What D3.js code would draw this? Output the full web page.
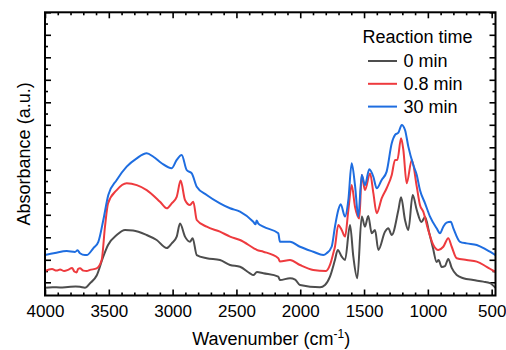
<!DOCTYPE html>
<html>
<head>
<meta charset="utf-8">
<script src="https://cdn.jsdelivr.net/npm/d3@7"></script>
<style>
  body { margin: 0; background: #fff; }
  svg { display: block; font-family: "Liberation Sans", Arial, sans-serif; }
</style>
</head>
<body>
<svg id="chart" width="506" height="350"></svg>
<script>
// FTIR spectra, [wavenumber (cm-1), absorbance (a.u.)]
const spectrum0min = [
  [4000, -0.024], [3940, -0.022], [3882, -0.023], [3820, -0.021], [3760, -0.019], [3726, -0.020],
  [3687, -0.024], [3647, -0.004], [3595, 0.030], [3545, 0.112], [3506, 0.166], [3438, 0.210],
  [3373, 0.232], [3310, 0.230], [3203, 0.210], [3125, 0.188], [3046, 0.152], [3007, 0.173],
  [2968, 0.203], [2942, 0.261], [2903, 0.203], [2864, 0.180], [2843, 0.196], [2811, 0.121],
  [2733, 0.107], [2629, 0.099], [2550, 0.077], [2472, 0.069], [2394, 0.040], [2368, 0.032],
  [2339, 0.046], [2289, 0.040], [2172, 0.025], [2159, 0.010], [2080, 0.018], [2040, 0.012],
  [2002, -0.012], [1845, -0.022], [1806, -0.012], [1767, 0.025], [1728, 0.099], [1706, 0.144],
  [1675, 0.114], [1649, 0.099], [1610, 0.255], [1584, 0.114], [1553, 0.018], [1518, 0.292],
  [1493, 0.247], [1467, 0.295], [1440, 0.218], [1414, 0.232], [1388, 0.144], [1336, 0.225],
  [1310, 0.240], [1283, 0.210], [1231, 0.321], [1210, 0.378], [1179, 0.277], [1153, 0.232],
  [1119, 0.388], [1087, 0.321], [1050, 0.268], [1022, 0.290], [991, 0.224], [960, 0.152],
  [931, 0.090], [916, 0.099], [892, 0.068], [866, 0.072], [840, 0.104], [813, 0.064],
  [774, 0.032], [722, 0.018], [644, 0.010], [566, 0.003], [513, -0.004], [470, -0.025]
];

const spectrum08min = [
  [4000, 0.050], [3945, 0.059], [3910, 0.052], [3882, 0.057], [3850, 0.050], [3820, 0.055],
  [3788, 0.064], [3770, 0.048], [3752, 0.044], [3740, 0.060], [3726, 0.062], [3700, 0.052],
  [3673, 0.050], [3647, 0.055], [3595, 0.062], [3556, 0.099], [3530, 0.247], [3506, 0.351],
  [3438, 0.410], [3360, 0.440], [3281, 0.432], [3203, 0.410], [3099, 0.358], [3046, 0.329],
  [3007, 0.351], [2968, 0.380], [2937, 0.452], [2903, 0.366], [2864, 0.344], [2838, 0.358],
  [2811, 0.277], [2733, 0.247], [2629, 0.225], [2550, 0.203], [2472, 0.188], [2360, 0.150],
  [2341, 0.144], [2289, 0.136], [2172, 0.107], [2159, 0.092], [2080, 0.099], [2002, 0.077],
  [1898, 0.055], [1798, 0.050], [1767, 0.077], [1741, 0.129], [1728, 0.158], [1702, 0.255],
  [1675, 0.232], [1649, 0.203], [1623, 0.321], [1597, 0.432], [1571, 0.336], [1537, 0.284],
  [1518, 0.477], [1493, 0.410], [1453, 0.484], [1427, 0.396], [1401, 0.307], [1362, 0.373],
  [1323, 0.418], [1283, 0.477], [1257, 0.544], [1239, 0.544], [1210, 0.640], [1192, 0.588],
  [1166, 0.440], [1126, 0.544], [1087, 0.425], [1062, 0.344], [1036, 0.314], [997, 0.232],
  [957, 0.166], [918, 0.144], [879, 0.158], [840, 0.196], [813, 0.158], [774, 0.107],
  [696, 0.099], [617, 0.092], [539, 0.069], [470, 0.046]
];

const spectrum30min = [
  [4000, 0.121], [3922, 0.130], [3830, 0.139], [3765, 0.135], [3745, 0.142], [3726, 0.129],
  [3687, 0.121], [3673, 0.121], [3622, 0.151], [3582, 0.180], [3543, 0.277], [3504, 0.388],
  [3438, 0.455], [3360, 0.514], [3281, 0.551], [3203, 0.573], [3151, 0.558], [3086, 0.529],
  [3007, 0.507], [2968, 0.544], [2929, 0.566], [2890, 0.499], [2850, 0.484], [2811, 0.425],
  [2733, 0.388], [2629, 0.351], [2550, 0.329], [2472, 0.314], [2368, 0.269], [2350, 0.258],
  [2342, 0.275], [2330, 0.262], [2289, 0.247], [2172, 0.218], [2159, 0.180], [2080, 0.180],
  [2002, 0.158], [1898, 0.136], [1819, 0.121], [1793, 0.129], [1754, 0.158], [1728, 0.247],
  [1702, 0.321], [1683, 0.347], [1649, 0.292], [1623, 0.366], [1597, 0.529], [1571, 0.432],
  [1545, 0.292], [1518, 0.477], [1493, 0.432], [1459, 0.502], [1427, 0.469], [1401, 0.418],
  [1362, 0.455], [1323, 0.492], [1283, 0.618], [1257, 0.655], [1231, 0.665], [1205, 0.699],
  [1179, 0.677], [1153, 0.603], [1114, 0.521], [1087, 0.477], [1062, 0.410], [1022, 0.351],
  [983, 0.292], [931, 0.240], [905, 0.218], [879, 0.247], [853, 0.265], [821, 0.269],
  [800, 0.240], [748, 0.180], [696, 0.173], [617, 0.166], [539, 0.144], [470, 0.121]
];

const seriesLabels = ['0 min', '0.8 min', '30 min'];
const seriesColors = ['#4d4d4d', '#ee3a3e', '#1e6de0'];
const xMajorTicks = [4000, 3500, 3000, 2500, 2000, 1500, 1000, 500];
const legendTitle = 'Reaction time';

const series = [spectrum0min, spectrum08min, spectrum30min].map((data, i) => ({
  label: seriesLabels[i], color: seriesColors[i], data
}));

const svg = d3.select('#chart');
const plot = { left: 45, right: 495.5, top: 12.3, bottom: 295.5 };

const x = d3.scaleLinear().domain([4000, 470]).range([plot.left, plot.right]);
const y = d3.scaleLinear().domain([-0.0587, 1.2]).range([plot.bottom, plot.top]);

const xMinor = d3.range(3900, 470, -100).filter((v) => v % 500 !== 0);
const yMajor = d3.range(0, 1.21, 0.1);
const yMinor = d3.range(0.05, 1.2, 0.1);

function styleAxis(g) {
  g.select('.domain').remove();
  g.selectAll('line').attr('stroke', '#000').attr('stroke-width', 1.6);
  g.attr('font-family', null).attr('font-size', 17).attr('fill', '#000');
  g.selectAll('text').attr('fill', '#000');
}

// bottom axis with labels, top axis mirrored
svg.append('g')
  .attr('transform', `translate(0,${plot.bottom})`)
  .call(d3.axisBottom(x).tickValues(xMajorTicks).tickSize(-6).tickPadding(9).tickFormat(d3.format('d')))
  .call(styleAxis);
svg.append('g')
  .attr('transform', `translate(0,${plot.bottom})`)
  .call(d3.axisBottom(x).tickValues(xMinor).tickSize(-3).tickFormat(''))
  .call(styleAxis);
svg.append('g')
  .attr('transform', `translate(0,${plot.top})`)
  .call(d3.axisTop(x).tickValues(xMajorTicks).tickSize(-6).tickFormat(''))
  .call(styleAxis);
svg.append('g')
  .attr('transform', `translate(0,${plot.top})`)
  .call(d3.axisTop(x).tickValues(xMinor).tickSize(-3).tickFormat(''))
  .call(styleAxis);

// y axes: ticks only, no numbers
[[d3.axisLeft, plot.left], [d3.axisRight, plot.right]].forEach(([axis, pos]) => {
  svg.append('g')
    .attr('transform', `translate(${pos},0)`)
    .call(axis(y).tickValues(yMajor).tickSize(-6).tickFormat(''))
    .call(styleAxis);
  svg.append('g')
    .attr('transform', `translate(${pos},0)`)
    .call(axis(y).tickValues(yMinor).tickSize(-3).tickFormat(''))
    .call(styleAxis);
});

const line = d3.line()
  .x((d) => x(d[0]))
  .y((d) => y(d[1]))
  .curve(d3.curveMonotoneX);

svg.append('g')
  .selectAll('path')
  .data(series)
  .join('path')
  .attr('d', (d) => line(d.data))
  .attr('fill', 'none')
  .attr('stroke', (d) => d.color)
  .attr('stroke-width', 2)
  .attr('stroke-linejoin', 'round');

// frame
svg.append('rect')
  .attr('x', plot.left).attr('y', plot.top)
  .attr('width', plot.right - plot.left).attr('height', plot.bottom - plot.top)
  .attr('fill', 'none').attr('stroke', '#000').attr('stroke-width', 2);

// axis titles
const xTitle = svg.append('text')
  .attr('x', (plot.left + plot.right) / 2 + 1)
  .attr('y', 345)
  .attr('text-anchor', 'middle')
  .attr('font-size', 18);
xTitle.append('tspan').text('Wavenumber (cm');
xTitle.append('tspan').attr('font-size', 12).attr('dy', -7).text('-1');
xTitle.append('tspan').attr('dy', 7).text(')');

svg.append('text')
  .attr('transform', `translate(29.5,${(plot.top + plot.bottom) / 2}) rotate(-90)`)
  .attr('text-anchor', 'middle')
  .attr('font-size', 18)
  .text('Absorbance (a.u.)');

// legend
const legend = svg.append('g').attr('font-size', 18);
legend.append('text').attr('x', 362.5).attr('y', 43.3).text(legendTitle);
const items = legend.selectAll('g.item')
  .data(series)
  .join('g')
  .attr('class', 'item')
  .attr('transform', (d, i) => `translate(0,${61 + i * 22.8})`);
items.append('line')
  .attr('x1', 368).attr('x2', 397)
  .attr('stroke', (d) => d.color).attr('stroke-width', 2);
items.append('text')
  .attr('x', 403.5).attr('y', 6.3)
  .text((d) => d.label);
</script>
</body>
</html>
